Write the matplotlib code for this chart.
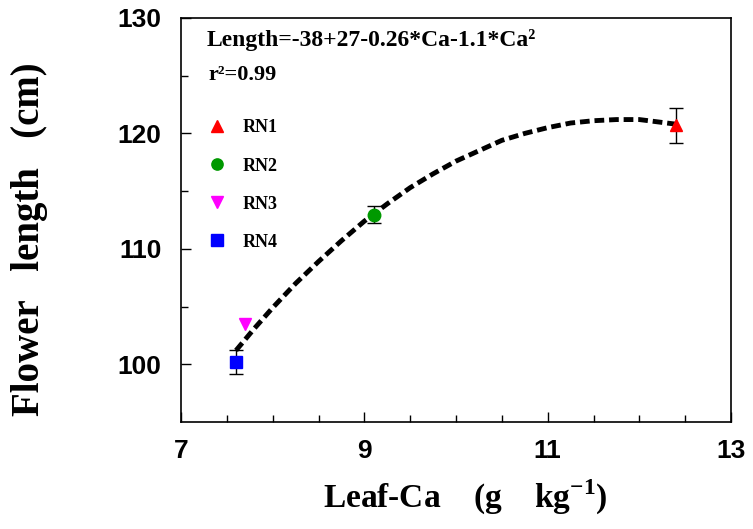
import numpy as np
import matplotlib
matplotlib.use("Agg")
import matplotlib.pyplot as plt

# treatment means
names = ["RN1", "RN2", "RN3", "RN4"]
leaf_ca = [12.4, 9.1, 7.7, 7.6]
flower_len = [120.7, 112.95, 103.5, 100.2]
err = [1.5, 0.75, 0.0, 1.05]
colors = ["#ff0000", "#009900", "#ff00ff", "#0000ff"]
markers = ["^", "o", "v", "s"]

# fitted curve
fit_x = [7.6, 7.8, 8.0, 8.25, 8.5, 8.75, 9.0, 9.25, 9.5, 9.75, 10.0, 10.25, 10.5,
         10.75, 11.0, 11.25, 11.5, 11.75, 12.0, 12.2, 12.4]
fit_y = [101.2, 103.1, 104.9, 107.0, 108.9, 110.7, 112.4, 113.9, 115.3, 116.5, 117.6,
         118.5, 119.4, 120.0, 120.5, 120.9, 121.1, 121.2, 121.2, 121.0, 120.8]

plt.rcParams["mathtext.fontset"] = "custom"
plt.rcParams["mathtext.rm"] = "Liberation Serif:bold"
plt.rcParams["mathtext.bf"] = "Liberation Serif:bold"

fig = plt.figure(figsize=(7.53, 5.29), dpi=100)
ax = fig.add_axes([0.2404, 0.2023, 0.7304, 0.7637])

ax.plot(fit_x, fit_y, color="black", lw=3.5, ls=(0, (2, 1)), zorder=3)

handles = []
for i in range(len(names)):
    if err[i] > 0:
        ax.errorbar(leaf_ca[i], flower_len[i], yerr=err[i], fmt="none",
                    ecolor="black", elinewidth=1, capsize=5, capthick=1, zorder=2)
    h, = ax.plot(leaf_ca[i], flower_len[i], ls="none", marker=markers[i],
                 ms=9, color=colors[i], label=names[i], zorder=4)
    handles.append(h)

ax.set_xlim(7, 13)
ax.set_ylim(95, 130)
ax.set_xticks([7, 9, 11, 13])
ax.set_xticks(np.arange(7.5, 13, 0.5), minor=True)
ax.set_yticks([100, 110, 120, 130])
ax.set_yticks([105, 115, 125], minor=True)

tick_font = {"family": "Liberation Sans", "weight": "bold", "size": 19}
ax.set_xticklabels(["7", "9", "11", "13"], fontdict=tick_font)
ax.set_yticklabels(["100", "110", "120", "130"], fontdict=tick_font)
ax.tick_params(which="major", direction="in", length=7, width=1)
ax.tick_params(which="minor", direction="in", length=5, width=1)
ax.tick_params(axis="y", which="major", pad=14)
ax.tick_params(axis="x", which="major", pad=12)
for s in ax.spines.values():
    s.set_linewidth(1.2)

serif = "Liberation Serif"
ax.set_ylabel("Flower   length   (cm)", family=serif, weight="bold", fontsize=28, va="center")
ax.yaxis.set_label_coords(-0.275, 0.453)
ax.set_xlabel(r"Leaf-Ca    (g    kg$^{-1}$)", family=serif, weight="bold", fontsize=24, va="center")
ax.xaxis.set_label_coords(0.516, -0.186)

ax.text(0.047, 0.946, "Length=-38+27-0.26*Ca-1.1*Ca²", transform=ax.transAxes,
        family=serif, weight="bold", fontsize=17, va="center", ha="left")
ax.text(0.049, 0.859, "r²=0.99", transform=ax.transAxes,
        family=serif, weight="bold", fontsize=16, va="center", ha="left")

ax.legend(handles=handles, loc="upper left", bbox_to_anchor=(0.049, 0.749),
          frameon=False, borderaxespad=0, borderpad=0, handlelength=1,
          handletextpad=0.9, labelspacing=1.17, markerscale=0.9,
          prop={"family": serif, "weight": "bold", "size": 13})

fig.savefig("out.png", dpi=100)
